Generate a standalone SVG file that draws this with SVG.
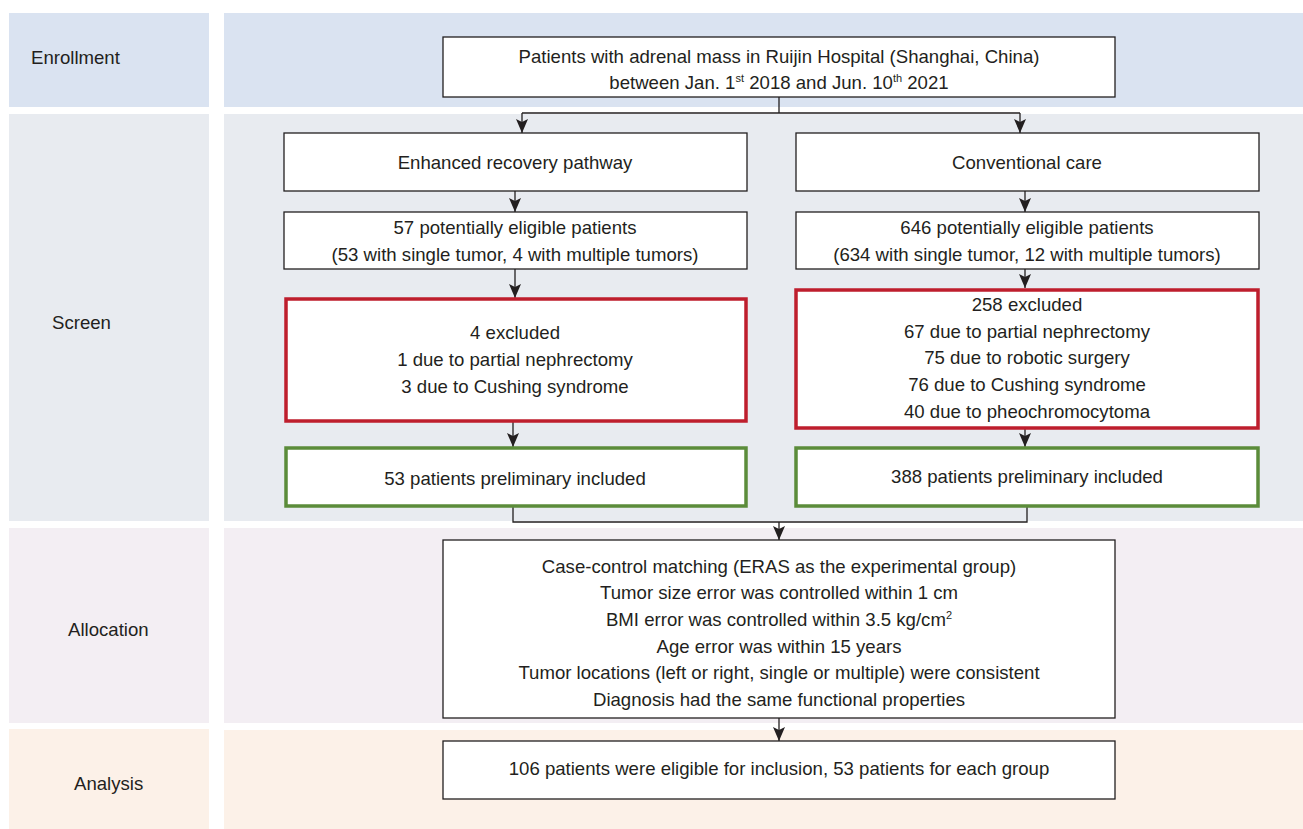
<svg xmlns="http://www.w3.org/2000/svg" width="1303" height="829" viewBox="0 0 1303 829">
<defs>
<style>
.t{font-family:"Liberation Sans",Arial,sans-serif;font-size:18.6px;fill:#231F20;text-anchor:middle}
.lbl{font-family:"Liberation Sans",Arial,sans-serif;font-size:18.6px;fill:#231F20}
.box{fill:#fff;stroke:#231F20;stroke-width:1.3}
.red{fill:#fff;stroke:#BE1E2D;stroke-width:3.5}
.grn{fill:#fff;stroke:#5B8C3A;stroke-width:3.5}
.ln{fill:none;stroke:#231F20;stroke-width:1.3}
.sup{font-size:11px}
</style>
<marker id="ah" markerUnits="userSpaceOnUse" markerWidth="14" markerHeight="12" viewBox="0 0 14 12" refX="14" refY="6" orient="auto">
<path d="M0,0 L14,6 L0,12 L3,6 Z" fill="#231F20"/>
</marker>
</defs>
<g id="bands">
<rect x="9" y="13" width="200" height="94" fill="#DAE3F1"/>
<rect x="224" y="13" width="1079" height="94" fill="#DAE3F1"/>
<rect x="9" y="114" width="200" height="407" fill="#E8EBF0"/>
<rect x="224" y="114" width="1079" height="407" fill="#E8EBF0"/>
<rect x="9" y="528" width="200" height="195" fill="#F3EEF3"/>
<rect x="224" y="528" width="1079" height="195" fill="#F3EEF3"/>
<rect x="9" y="729" width="200" height="100" fill="#FCF1E8"/>
<rect x="224" y="730" width="1079" height="99" fill="#FCF1E8"/>
<text class="lbl" x="31" y="64">Enrollment</text>
<text class="lbl" x="52" y="329">Screen</text>
<text class="lbl" x="68" y="636">Allocation</text>
<text class="lbl" x="74" y="790">Analysis</text>
</g>
<g id="connectors">
<path class="ln" d="M779,97 V113 M522,113 H1020"/>
<path class="ln" d="M522,113 V133" marker-end="url(#ah)"/>
<path class="ln" d="M1020,113 V133" marker-end="url(#ah)"/>
<path class="ln" d="M515,191 V212" marker-end="url(#ah)"/>
<path class="ln" d="M1025,191 V212" marker-end="url(#ah)"/>
<path class="ln" d="M515,269 V298" marker-end="url(#ah)"/>
<path class="ln" d="M1025,269 V288" marker-end="url(#ah)"/>
<path class="ln" d="M513,421 V447" marker-end="url(#ah)"/>
<path class="ln" d="M1025,429 V447" marker-end="url(#ah)"/>
<path class="ln" d="M513,506 V522 H1027 V506"/>
<path class="ln" d="M779,522 V540" marker-end="url(#ah)"/>
<path class="ln" d="M779,718 V741" marker-end="url(#ah)"/>
</g>
<g id="n_enroll">
<rect class="box" x="443" y="37" width="672" height="60"/>
<text class="t" x="779" y="63">Patients with adrenal mass in Ruijin Hospital (Shanghai, China)</text>
<text class="t" x="779" y="89">between Jan. 1<tspan class="sup" dy="-7">st</tspan><tspan dy="7"> 2018 and Jun. 10</tspan><tspan class="sup" dy="-7">th</tspan><tspan dy="7"> 2021</tspan></text>
</g>
<g id="n_eras">
<rect class="box" x="284" y="133" width="463" height="58"/>
<text class="t" x="515" y="169">Enhanced recovery pathway</text>
</g>
<g id="n_conv">
<rect class="box" x="796" y="133" width="463" height="58"/>
<text class="t" x="1027" y="169">Conventional care</text>
</g>
<g id="n_57">
<rect class="box" x="284" y="212" width="463" height="57"/>
<text class="t" x="515" y="234">57 potentially eligible patients</text>
<text class="t" x="515" y="261">(53 with single tumor, 4 with multiple tumors)</text>
</g>
<g id="n_646">
<rect class="box" x="796" y="212" width="463" height="57"/>
<text class="t" x="1027" y="234">646 potentially eligible patients</text>
<text class="t" x="1027" y="261">(634 with single tumor, 12 with multiple tumors)</text>
</g>
<g id="n_excl_l">
<rect class="red" x="286" y="299" width="460" height="122"/>
<text class="t" x="515" y="339">4 excluded</text>
<text class="t" x="515" y="366">1 due to partial nephrectomy</text>
<text class="t" x="515" y="393">3 due to Cushing syndrome</text>
</g>
<g id="n_excl_r">
<rect class="red" x="796" y="290" width="462" height="138"/>
<text class="t" x="1027" y="311">258 excluded</text>
<text class="t" x="1027" y="338">67 due to partial nephrectomy</text>
<text class="t" x="1027" y="364">75 due to robotic surgery</text>
<text class="t" x="1027" y="391">76 due to Cushing syndrome</text>
<text class="t" x="1027" y="418">40 due to pheochromocytoma</text>
</g>
<g id="n_incl_l">
<rect class="grn" x="286" y="448" width="460" height="58"/>
<text class="t" x="515" y="485">53 patients preliminary included</text>
</g>
<g id="n_incl_r">
<rect class="grn" x="796" y="448" width="462" height="58"/>
<text class="t" x="1027" y="483">388 patients preliminary included</text>
</g>
<g id="n_alloc">
<rect class="box" x="443" y="540" width="672" height="178"/>
<text class="t" x="779" y="573">Case-control matching (ERAS as the experimental group)</text>
<text class="t" x="779" y="599">Tumor size error was controlled within 1 cm</text>
<text class="t" x="779" y="626">BMI error was controlled within 3.5 kg/cm<tspan class="sup" dy="-7">2</tspan></text>
<text class="t" x="779" y="653">Age error was within 15 years</text>
<text class="t" x="779" y="679">Tumor locations (left or right, single or multiple) were consistent</text>
<text class="t" x="779" y="706">Diagnosis had the same functional properties</text>
</g>
<g id="n_analysis">
<rect class="box" x="443" y="741" width="672" height="58"/>
<text class="t" x="779" y="775">106 patients were eligible for inclusion, 53 patients for each group</text>
</g>
</svg>
